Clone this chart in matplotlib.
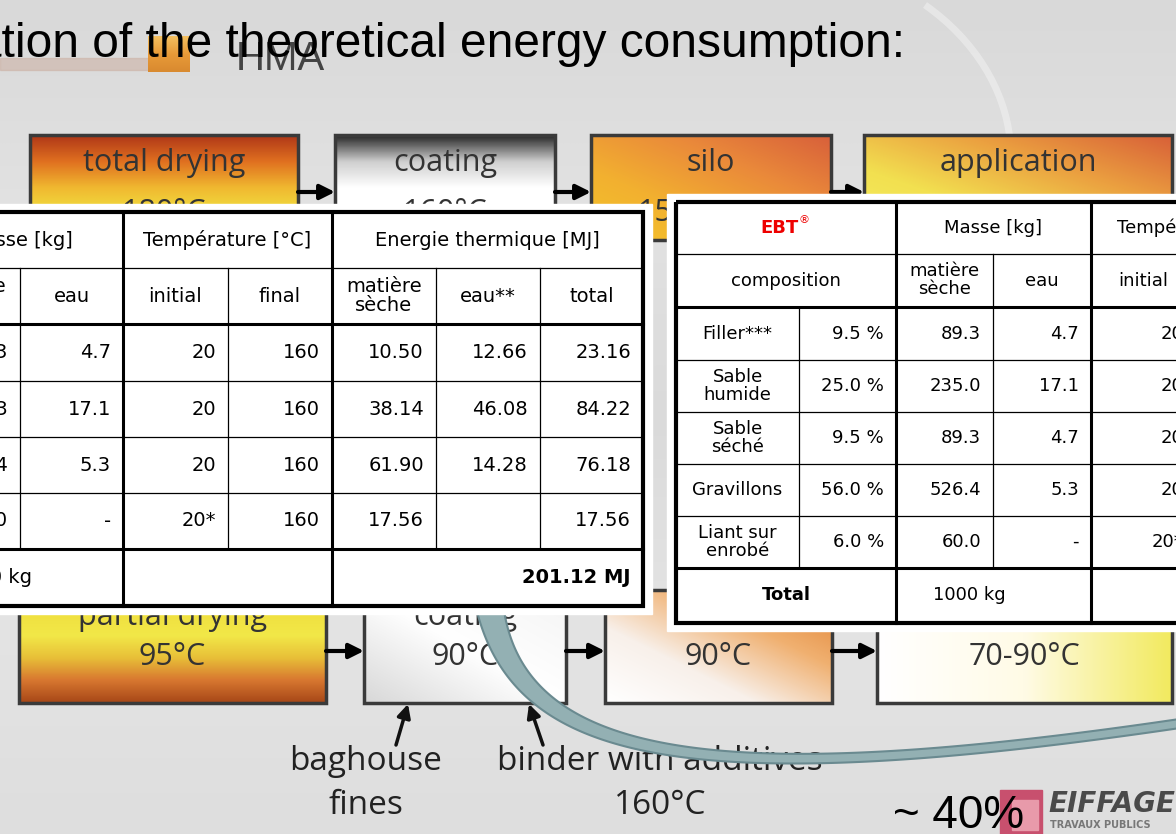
import numpy as np
import matplotlib.pyplot as plt
from matplotlib.colors import LinearSegmentedColormap
from matplotlib.patches import Rectangle, Polygon, PathPatch
from matplotlib.path import Path

# --- table data (HMA, left table) ---
hma_names = ['Filler***', 'Sables', 'Gravillons', 'Liant sur\nenrobé']
hma_pct = ['9.5 %', '34.5 %', '56.0 %', '6.0 %']
hma_dry = ['89.3', '324.3', '526.4', '60.0']
hma_water = ['4.7', '17.1', '5.3', '-']
hma_t0 = ['20', '20', '20', '20*']
hma_t1 = ['160', '160', '160', '160']
hma_e_dry = ['10.50', '38.14', '61.90', '17.56']
hma_e_water = ['12.66', '46.08', '14.28', '']
hma_e_total = ['23.16', '84.22', '76.18', '17.56']
hma_total_mass = '1000 kg'
hma_total_energy = '201.12 MJ'

# --- table data (EBT, right table) ---
ebt_names = ['Filler***', 'Sable\nhumide', 'Sable\nséché', 'Gravillons', 'Liant sur\nenrobé']
ebt_pct = ['9.5 %', '25.0 %', '9.5 %', '56.0 %', '6.0 %']
ebt_dry = ['89.3', '235.0', '89.3', '526.4', '60.0']
ebt_water = ['4.7', '17.1', '4.7', '5.3', '-']
ebt_t0 = ['20', '20', '20', '20', '20*']
ebt_total_mass = '1000 kg'

# --- flow chart labels ---
top_steps = ['total drying\n180°C', 'coating\n160°C', 'silo\n150-160°C', 'application\n130-140°C']
bottom_steps = ['partial drying\n95°C', 'coating\n90°C', 'silo\n90°C', 'application\n70-90°C']
saving = '~ 40%'

W, H = 1176, 834
fig = plt.figure(figsize=(W / 100, H / 100), dpi=100)
fig.patch.set_facecolor('#dcdcdc')
ax = fig.add_axes([0, 0, 1, 1])
ax.set_facecolor('#dcdcdc')


def grad(x0, y0, x1, y1, colors, mode='v', z=1):
    cmap = LinearSegmentedColormap.from_list('g', colors)
    t = np.linspace(0, 1, 80)
    if mode == 'v':
        arr = np.tile(t[:, None], (1, 80))
    elif mode == 'h':
        arr = np.tile(t[None, :], (80, 1))
    else:  # diagonal, towards top-right
        arr = (np.add.outer(1 - t, t)) / 2
    ax.imshow(arr, cmap=cmap, extent=(x0, x1, y1, y0), aspect='auto',
              interpolation='bilinear', zorder=z)


# background
grad(0, 0, W, H, ['#d9d9d9', '#e2e2e2', '#dadada', '#e4e4e4', '#dedede'], 'v', 0)
sw = Path([(925, 5), (975, 40), (1005, 90), (1010, 140)],
          [Path.MOVETO, Path.CURVE4, Path.CURVE4, Path.CURVE4])
ax.add_patch(PathPatch(sw, fill=False, ec='white', lw=5, alpha=0.35, zorder=0.5))

# title area
ax.add_patch(Rectangle((0, 58), 150, 12, color='#cdb2a6', alpha=0.6, zorder=0.6))
grad(148, 36, 190, 72, ['#f4c060', '#e89a38', '#d98a30'], 'v', 0.7)
ax.text(236, 70, 'HMA', fontsize=29, family='Liberation Sans', color='#444444',
        va='baseline', zorder=0.8)
ax.text(905, 57, 'Estimation of the theoretical energy consumption:', fontsize=34.5,
        family='Liberation Sans', color='black', ha='right', va='baseline', zorder=3)

# flow chart boxes
top_boxes = [(30, 298), (335, 555), (591, 831), (864, 1172)]
top_cols = [
    (['#b03818', '#e07020', '#f0b830', '#f0e040', '#eee44a'], 'v'),
    (['#2a2a2a', '#cfcfcf', '#ffffff', '#ffffff', '#f2f2f2'], 'v'),
    (['#f4c42a', '#f2b030', '#ea8a3a', '#d8603a'], 'd'),
    (['#f6ee60', '#f2e050', '#eba040', '#d86038'], 'd'),
]
bot_boxes = [(19, 326), (364, 566), (605, 832), (877, 1172)]
bot_cols = [
    (['#e8b030', '#f0e040', '#f2e848', '#e8c038', '#d87830', '#a84818'], 'v'),
    (['#d8d8d8', '#ffffff', '#f4f4f4'], 'd'),
    (['#ffffff', '#f8f0ea', '#f0b070', '#e08030'], 'd'),
    (['#ffffff', '#fffbe6', '#f2ea60'], 'h'),
]
for (x0, x1), (cols, mode), lab in zip(top_boxes, top_cols, top_steps):
    y0, y1 = 135, 240
    grad(x0, y0, x1, y1, cols, mode, 1)
    ax.add_patch(Rectangle((x0, y0), x1 - x0, y1 - y0, fill=False, ec='#3a3a3a', lw=2.5, zorder=1.2))
    l1, l2 = lab.split('\n')
    ax.text((x0 + x1) / 2, 163, l1, fontsize=22, family='Open Sans', color='#333333',
            ha='center', va='center', zorder=1.3)
    ax.text((x0 + x1) / 2, 213, l2, fontsize=22, family='Open Sans', color='#333333',
            ha='center', va='center', zorder=1.3)
for (x0, x1), (cols, mode), lab in zip(bot_boxes, bot_cols, bottom_steps):
    y0, y1 = 590, 703
    grad(x0, y0, x1, y1, cols, mode, 1)
    ax.add_patch(Rectangle((x0, y0), x1 - x0, y1 - y0, fill=False, ec='#3a3a3a', lw=2.5, zorder=1.2))
    l1, l2 = lab.split('\n')
    ax.text((x0 + x1) / 2, 617, l1, fontsize=22, family='Open Sans', color='#333333',
            ha='center', va='center', zorder=1.3)
    ax.text((x0 + x1) / 2, 657, l2, fontsize=22, family='Open Sans', color='#333333',
            ha='center', va='center', zorder=1.3)

# arrows between boxes
for boxes, y in [(top_boxes, 192), (bot_boxes, 651)]:
    for (a0, a1), (b0, b1) in zip(boxes[:-1], boxes[1:]):
        ax.annotate('', xy=(b0, y), xytext=(a1, y),
                    arrowprops=dict(arrowstyle='-|>', lw=3, color='black', mutation_scale=22,
                                    shrinkA=0, shrinkB=0), zorder=1.4)
ax.annotate('', xy=(408, 704), xytext=(396, 745),
            arrowprops=dict(arrowstyle='-|>', lw=2.5, color='#111111', mutation_scale=20,
                            shrinkA=0, shrinkB=0), zorder=1.4)
ax.annotate('', xy=(529, 704), xytext=(543, 745),
            arrowprops=dict(arrowstyle='-|>', lw=2.5, color='#111111', mutation_scale=20,
                            shrinkA=0, shrinkB=0), zorder=1.4)
ax.text(366, 762, 'baghouse', fontsize=24, family='Open Sans', color='#222222',
        ha='center', va='center', zorder=1.3)
ax.text(366, 806, 'fines', fontsize=24, family='Open Sans', color='#222222',
        ha='center', va='center', zorder=1.3)
ax.text(660, 762, 'binder with additives', fontsize=24, family='Open Sans', color='#222222',
        ha='center', va='center', zorder=1.3)
ax.text(660, 806, '160°C', fontsize=24, family='Open Sans', color='#222222',
        ha='center', va='center', zorder=1.3)

# curved, tapering arc
P = np.array([(490, 608), (520, 760), (700, 795), (1190, 722)], dtype=float)
t = np.linspace(0, 1, 200)[:, None]
B = (1 - t) ** 3 * P[0] + 3 * (1 - t) ** 2 * t * P[1] + 3 * (1 - t) * t ** 2 * P[2] + t ** 3 * P[3]
D = 3 * (1 - t) ** 2 * (P[1] - P[0]) + 6 * (1 - t) * t * (P[2] - P[1]) + 3 * t ** 2 * (P[3] - P[2])
N = np.column_stack([-D[:, 1], D[:, 0]]) / np.linalg.norm(D, axis=1)[:, None]
wid = (9 * (1 - t[:, 0]) ** 3 + 4.5)[:, None]
band = np.vstack([B + N * wid, (B - N * wid)[::-1]])
ax.add_patch(Polygon(band, closed=True, fc='#93b0b3', ec='#6a8a90', lw=1.5, zorder=2))

# logo and saving
ax.add_patch(Rectangle((1000, 790), 42, 44, color='#c8506e', zorder=2))
ax.add_patch(Rectangle((1012, 800), 26, 30, color='#e89aaa', zorder=2.1))
ax.text(1048, 812, 'EIFFAGE', fontsize=20, family='DejaVu Sans', weight='bold', style='italic',
        color='#4a4a4a', va='baseline', zorder=2)
ax.text(1050, 828, 'TRAVAUX PUBLICS', fontsize=7, family='DejaVu Sans', weight='bold',
        color='#777777', va='baseline', zorder=2)
ax.text(893, 828, saving, fontsize=33, family='Liberation Sans', color='black',
        va='baseline', zorder=3)

# --- tables ---
TF = 'DejaVu Sans'


def draw_table(cols, rows, title, names, data, total_mass, total_energy, fs, z=5):
    x0, x1 = cols[0], cols[-1]
    y0, y1 = rows[0], rows[-1]
    ax.add_patch(Rectangle((x0 - 9, y0 - 8), x1 - x0 + 18, y1 - y0 + 16, color='white', zorder=z))
    zl = z + 0.2

    def hl(y, a, b, lw):
        ax.plot([a, b], [y, y], color='black', lw=lw, solid_capstyle='projecting', zorder=zl)

    def vl(x, a, b, lw):
        ax.plot([x, x], [a, b], color='black', lw=lw, solid_capstyle='projecting', zorder=zl)

    hl(rows[1], x0, x1, 0.9)
    for y in rows[3:-2]:
        hl(y, x0, x1, 0.9)
    hl(rows[2], x0, x1, 2.2)
    hl(rows[-2], x0, x1, 2.2)
    vl(cols[1], rows[2], rows[-2], 0.9)
    for c in (3, 5, 7, 8):
        vl(cols[c], rows[1], rows[-2], 0.9)
    for c in (2, 4, 6):
        vl(cols[c], y0, y1, 2.2)
    ax.add_patch(Rectangle((x0, y0), x1 - x0, y1 - y0, fill=False, ec='black', lw=3, zorder=zl))

    def ctr(a, b, y, s, **kw):
        ax.text((a + b) / 2, y, s, fontsize=fs, family=TF, ha='center', va='center',
                linespacing=1.0, zorder=zl, **kw)

    def rgt(b, y, s, **kw):
        ax.text(b - 12, y, s, fontsize=fs, family=TF, ha='right', va='center', zorder=zl, **kw)

    hy = (rows[0] + rows[1]) / 2
    sy = (rows[1] + rows[2]) / 2
    ax.text((cols[0] + cols[2]) / 2 - 6, hy, title, fontsize=fs, family=TF, weight='bold',
            color='#ee0000', ha='center', va='center', zorder=zl)
    ax.text((cols[0] + cols[2]) / 2 + 18, hy - 8, '®', fontsize=8, family=TF,
            color='#ee0000', ha='center', va='center', zorder=zl)
    ctr(cols[2], cols[4], hy, 'Masse [kg]')
    ctr(cols[4], cols[6], hy, 'Température [°C]')
    ctr(cols[6], cols[9], hy, 'Energie thermique [MJ]')
    ctr(cols[0], cols[2], sy, 'composition')
    for c, s in zip(range(2, 9), ['matière\nsèche', 'eau', 'initial', 'final',
                                  'matière\nsèche', 'eau**', 'total']):
        ctr(cols[c], cols[c + 1], sy, s)
    for r, nm in enumerate(names):
        y = (rows[r + 2] + rows[r + 3]) / 2
        ctr(cols[0], cols[1], y, nm)
        for c, col in enumerate(data):
            if col is not None:
                rgt(cols[c + 2], y, col[r])
    ty = (rows[-2] + rows[-1]) / 2
    ctr(cols[0], cols[2], ty, 'Total', weight='bold')
    ax.text(cols[2] + 37, ty, total_mass, fontsize=fs, family=TF, ha='left', va='center', zorder=zl)
    if total_energy:
        rgt(cols[9], ty, total_energy, weight='bold')


L_cols = [-312, -189, -84, 20, 123, 228, 332, 436, 540, 643]
L_rows = [212, 268, 324, 381, 437, 493, 549, 606]
draw_table(L_cols, L_rows, 'HMA', hma_names,
           [hma_pct, hma_dry, hma_water, hma_t0, hma_t1, hma_e_dry, hma_e_water, hma_e_total],
           hma_total_mass, hma_total_energy, 14, z=5)

R_cols = [676, 799, 896, 993, 1091, 1195, 1299, 1403, 1507, 1611]
R_rows = [202, 254, 307, 360, 412, 464, 516, 568, 623]
draw_table(R_cols, R_rows, 'EBT', ebt_names,
           [ebt_pct, ebt_dry, ebt_water, ebt_t0, None, None, None, None],
           ebt_total_mass, None, 13, z=6)

ax.set_xlim(0, W)
ax.set_ylim(H, 0)
ax.axis('off')
fig.savefig('out.png', dpi=100, facecolor=fig.get_facecolor())
